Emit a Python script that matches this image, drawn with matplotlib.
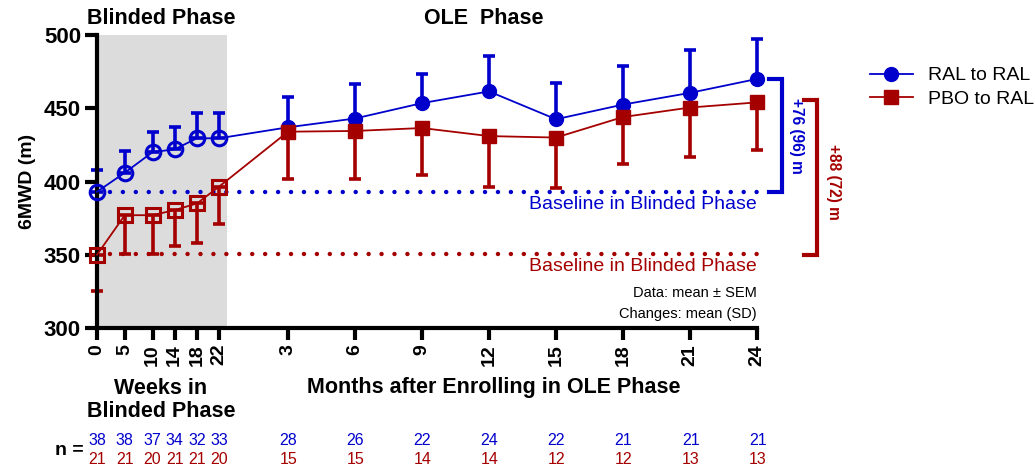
import matplotlib
matplotlib.use("Agg")
import matplotlib.pyplot as plt
from matplotlib.lines import Line2D

plt.rcParams['font.family'] = ['Liberation Sans', 'DejaVu Sans']

# ---- data ----
weeks = [0, 5, 10, 14, 18, 22]
months = [3, 6, 9, 12, 15, 18, 21, 24]
week_labels = ['0', '5', '10', '14', '18', '22']
month_labels = ['3', '6', '9', '12', '15', '18', '21', '24']

ral_weeks_mean = [393, 406, 420, 422, 429.5, 429.5]
ral_weeks_upper = [408, 421, 434, 437, 446.5, 446.5]
ral_months_mean = [437, 443, 453.5, 461.5, 442.5, 452.5, 460.5, 470]
ral_months_upper = [458, 466.5, 473.5, 485.5, 467, 479, 490, 497]

pbo_weeks_mean = [350, 377, 377, 380.5, 385, 396.5]
pbo_weeks_lower = [325, 350.5, 350.5, 356, 358, 371]
pbo_months_mean = [434, 434.5, 436.5, 431, 430, 444, 450.5, 454]
pbo_months_lower = [402, 401.5, 404.5, 396, 395.5, 412, 417, 421.5]

ral_baseline = 393
pbo_baseline = 350.5

n_ral = [38, 38, 37, 34, 32, 33, 28, 26, 22, 24, 22, 21, 21, 21]
n_pbo = [21, 21, 20, 21, 21, 20, 15, 15, 14, 14, 12, 12, 13, 13]

ral_change = "+76 (96) m"
pbo_change = "+88 (72) m"

BLUE = '#0000CC'
RED = '#A50000'
GRAY = '#DCDCDC'

# month position on the shared axis (weeks units)
M0 = 22.34
MSCALE = 4.024
def mpos(m):
    return M0 + m * MSCALE

xw = list(weeks)
xm = [mpos(m) for m in months]
xall = xw + xm

fig = plt.figure(figsize=(10.35, 4.65), dpi=100)
ax = fig.add_axes([97/1035, 1-328/465, (757-97)/1035, (328-35)/465])
ax.set_xlim(0, mpos(24))
ax.set_ylim(300, 500)

ax.axvspan(0, 23.4, color=GRAY, zorder=0, lw=0)

# baselines
dots = (0, (0.01, 2.9))
ax.plot([0, mpos(24)], [ral_baseline]*2, color=BLUE, lw=3.2,
        linestyle=dots, dash_capstyle='round', zorder=1, clip_on=False)
ax.plot([0, mpos(24)], [pbo_baseline]*2, color=RED, lw=3.2,
        linestyle=dots, dash_capstyle='round', zorder=1, clip_on=False)

# connecting lines
ral_mean = ral_weeks_mean + ral_months_mean
pbo_mean = pbo_weeks_mean + pbo_months_mean
ax.plot(xall, ral_mean, color=BLUE, lw=1.3, zorder=3, clip_on=False)
ax.plot(xall, pbo_mean, color=RED, lw=1.3, zorder=3, clip_on=False)

# error bars (one-sided)
ral_upper = ral_weeks_upper + ral_months_upper
pbo_lower = pbo_weeks_lower + pbo_months_lower
ral_err = [[0]*len(xall), [u - m for u, m in zip(ral_upper, ral_mean)]]
pbo_err = [[m - l for l, m in zip(pbo_lower, pbo_mean)], [0]*len(xall)]
e1 = ax.errorbar(xall, ral_mean, yerr=ral_err, fmt='none', ecolor=BLUE, elinewidth=2.6,
                 capsize=4.5, capthick=2.6, zorder=2)
e2 = ax.errorbar(xall, pbo_mean, yerr=pbo_err, fmt='none', ecolor=RED, elinewidth=2.6,
                 capsize=4.5, capthick=2.6, zorder=2)
for e in (e1, e2):
    for c in e[1]:
        c.set_clip_on(False)
    for c in e[2]:
        c.set_clip_on(False)

# markers: open in blinded phase, filled in OLE
ax.plot(xw, ral_weeks_mean, 'o', ms=10.5, mfc='none', mec=BLUE, mew=2.2, zorder=4, clip_on=False)
ax.plot(xm, ral_months_mean, 'o', ms=10, mfc=BLUE, mec=BLUE, zorder=4, clip_on=False)
ax.plot(xw, pbo_weeks_mean, 's', ms=10.5, mfc='none', mec=RED, mew=2.2, zorder=4, clip_on=False)
ax.plot(xm, pbo_months_mean, 's', ms=10, mfc=RED, mec=RED, zorder=4, clip_on=False)

# axes styling
for s in ['top', 'right']:
    ax.spines[s].set_visible(False)
for s in ['left', 'bottom']:
    ax.spines[s].set_linewidth(3)
ax.set_xticks(xall)
ax.set_xticklabels(week_labels + month_labels, rotation=90, fontsize=14, fontweight='bold')
ax.set_yticks([300, 350, 400, 450, 500])
ax.set_yticklabels(['300', '350', '400', '450', '500'], fontsize=16, fontweight='bold')
ax.tick_params(axis='both', length=8.5, width=3, pad=3)
ax.set_ylabel('6MWD (m)', fontsize=14, fontweight='bold', labelpad=6)

# baseline labels
ax.text(mpos(24), ral_baseline - 3, 'Baseline in Blinded Phase', color=BLUE, fontsize=14,
        ha='right', va='top')
ax.text(mpos(24), pbo_baseline - 3, 'Baseline in Blinded Phase', color=RED, fontsize=14,
        ha='right', va='top')
ax.text(mpos(24), 324, 'Data: mean ± SEM', color='black', fontsize=10.5, ha='right', va='center')
ax.text(mpos(24), 309.5, 'Changes: mean (SD)', color='black', fontsize=10.5, ha='right', va='center')

# change brackets
def px2x(px):
    return (px - 97) / 5.556
bx0, bx1 = px2x(770), px2x(783)
ax.plot([bx0, bx1, bx1, bx0], [ral_months_mean[-1], ral_months_mean[-1], ral_baseline, ral_baseline],
        color=BLUE, lw=3, clip_on=False, solid_joinstyle='miter')
rx0, rx1 = px2x(805), px2x(818)
ax.plot([rx0, rx1, rx1, rx0], [pbo_months_mean[-1] + 1.5, pbo_months_mean[-1] + 1.5, pbo_baseline - 1, pbo_baseline - 1],
        color=RED, lw=3, clip_on=False, solid_joinstyle='miter')
ax.text(px2x(797), 431, ral_change, color=BLUE, fontsize=11.2, fontweight='bold', rotation=270,
        ha='center', va='center', clip_on=False)
ax.text(px2x(834), 400, pbo_change, color=RED, fontsize=11.2, fontweight='bold', rotation=270,
        ha='center', va='center', clip_on=False)

# phase titles
fig.text(161/1035, 1-19/465, 'Blinded Phase', fontsize=15.5, fontweight='bold', ha='center', va='center')
fig.text(484/1035, 1-19/465, 'OLE  Phase', fontsize=15.5, fontweight='bold', ha='center', va='center')

# x group labels
fig.text(161/1035, 1-400/465, 'Weeks in\nBlinded Phase', fontsize=15.5, fontweight='bold',
         ha='center', va='center', linespacing=1.15)
fig.text(494/1035, 1-388/465, 'Months after Enrolling in OLE Phase', fontsize=15.5, fontweight='bold',
         ha='center', va='center')

# n rows
fig.text(84/1035, 1-450/465, 'n =', fontsize=14, fontweight='bold', ha='right', va='center')
for x, nr, npb in zip(xall, n_ral, n_pbo):
    fx = (97 + x * 5.556) / 1035
    fig.text(fx, 1-440/465, str(nr), color=BLUE, fontsize=11.5, ha='center', va='center')
    fig.text(fx, 1-459/465, str(npb), color=RED, fontsize=11.5, ha='center', va='center')

# legend
handles = [Line2D([0], [0], color=BLUE, lw=1.3, marker='o', ms=10, mfc=BLUE, mec=BLUE),
           Line2D([0], [0], color=RED, lw=1.3, marker='s', ms=10, mfc=RED, mec=RED)]
fig.legend(handles, ['RAL to RAL', 'PBO to RAL'], loc='upper left',
           bbox_to_anchor=(860/1035, 1-57/465), frameon=False, fontsize=14,
           handlelength=2.2, handletextpad=0.8, labelspacing=0.3, borderpad=0)

fig.savefig('out.png', dpi=100)
